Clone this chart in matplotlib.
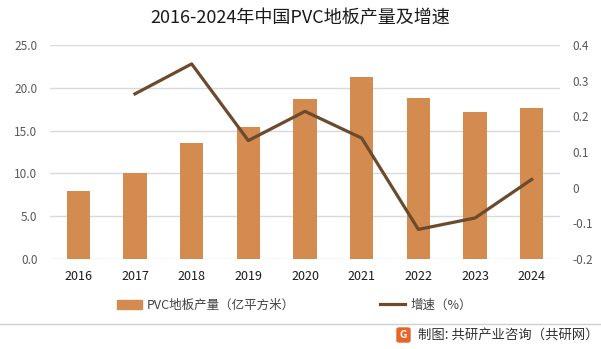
import numpy as np
import matplotlib
matplotlib.use('Agg')
import matplotlib.pyplot as plt
from matplotlib.patches import FancyBboxPatch
from matplotlib.lines import Line2D
from matplotlib.patches import Patch

plt.rcParams['font.family'] = ['Noto Sans CJK SC', 'DejaVu Sans']
plt.rcParams['axes.unicode_minus'] = False

years = ['2016', '2017', '2018', '2019', '2020', '2021', '2022', '2023', '2024']
output = [8.0, 10.1, 13.6, 15.4, 18.7, 21.3, 18.8, 17.2, 17.6]
growth = [np.nan, 0.263, 0.347, 0.132, 0.214, 0.139, -0.117, -0.085, 0.023]

bar_color = '#D38B4F'
line_color = '#6B4A2E'
grid_color = '#D9D9D9'

fig = plt.figure(figsize=(6.01, 3.49), dpi=100)
ax = fig.add_axes([50/601, 1 - 259/349, 510/601, 214/349])
ax2 = ax.twinx()

x = np.arange(len(years))
ax.bar(x, output, width=0.41, color=bar_color, zorder=2)
ax2.plot(x, growth, color=line_color, lw=2.3, zorder=3)

ax.set_xlim(-0.5, len(years) - 0.5)
ax.set_ylim(0, 25)
ax.set_yticks([0, 5, 10, 15, 20, 25])
ax.set_yticklabels(['%.1f' % v for v in [0, 5, 10, 15, 20, 25]])
ax2.set_ylim(-0.2, 0.4)
r_ticks = [-0.2, -0.1, 0, 0.1, 0.2, 0.3, 0.4]
ax2.set_yticks(r_ticks)
ax2.set_yticklabels(['0' if v == 0 else '%.1f' % v for v in r_ticks])

ax.set_xticks(x)
ax.set_xticklabels(years, fontsize=9, color='#1a1a1a')
ax.yaxis.grid(True, color=grid_color, lw=1, zorder=0)
ax.set_axisbelow(True)
for a in (ax, ax2):
    for s in a.spines.values():
        s.set_visible(False)
ax.tick_params(axis='y', length=0, pad=9, labelsize=8.5, labelcolor='#595959')
ax2.tick_params(axis='y', length=0, pad=9, labelsize=8.5, labelcolor='#595959')
ax.tick_params(axis='x', length=0, pad=8)

fig.text(0.5, 1 - 18/349, '2016-2024年中国PVC地板产量及增速', ha='center', va='center',
         fontsize=13, color='#1a1a1a')

handles = [Patch(color=bar_color), Line2D([0], [0], color=line_color, lw=2.3)]
labels = ['PVC地板产量（亿平方米）', '增速（%）']
fig.legend(handles, labels, loc='center', bbox_to_anchor=(0.49, 1 - 305/349), ncol=2,
           frameon=False, fontsize=9, columnspacing=6.8, handlelength=2.0,
           handletextpad=0.4, labelcolor='#404040')

fig.add_artist(Line2D([0, 1], [1 - 324/349, 1 - 324/349], color='#D0D0D0', lw=1,
                      transform=fig.transFigure))

logo = FancyBboxPatch((397/601, 1 - 342/349), 13/601, 14/349,
                      boxstyle='round,pad=0,rounding_size=0.004',
                      transform=fig.transFigure, color='#E8652A')
fig.add_artist(logo)
fig.text(403.5/601, 1 - 335/349, 'G', ha='center', va='center', fontsize=7.5,
         color='white', fontweight='bold')
fig.text(599/601, 1 - 335/349, '制图: 共研产业咨询（共研网）', ha='right', va='center',
         fontsize=9.6, color='#333333')

fig.savefig('out.png', dpi=100)
